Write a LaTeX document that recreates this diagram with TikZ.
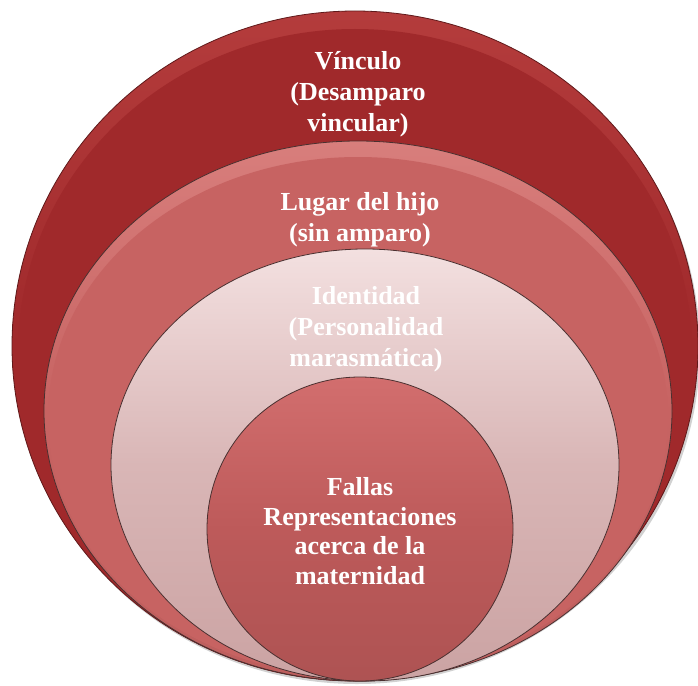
\documentclass[tikz,border=0pt]{standalone}
\usepackage{fontspec}
\setmainfont{Liberation Serif}
\usetikzlibrary{shapes.geometric}
\definecolor{outerc}{HTML}{A0292B}
\definecolor{outerhi}{HTML}{B43C3C}
\definecolor{secondc}{HTML}{C76362}
\definecolor{secondtop}{HTML}{D87E7C}
\definecolor{thirdtop}{HTML}{F3E0E0}
\definecolor{thirdc}{HTML}{D9B6B6}
\definecolor{thirdbot}{HTML}{CBA3A3}
\definecolor{innertop}{HTML}{D26E6E}
\definecolor{innerc}{HTML}{BD5A5A}
\definecolor{edgec}{HTML}{4A3030}
\tikzset{
  ring/.style={draw=edgec, line width=0.8pt},
  shadowring/.style={fill=black, opacity=0.18},
  label/.style={text=white, font=\bfseries\fontsize{26}{31}\selectfont, align=center, inner sep=0pt},
}
\begin{document}
\begin{tikzpicture}[x=1pt,y=-1pt]
\useasboundingbox (0,0) rectangle (698,685);
\fill[white] (0,0) rectangle (698,685);
% outer
\path[shadowring] (357,349) ellipse [x radius=343, y radius=335];
\path[ring, draw=outerc!60!black, top color=outerhi, bottom color=outerc, middle color=outerc] (355,346) ellipse [x radius=343, y radius=335];
\path[fill=outerc] (355,352) ellipse [x radius=337, y radius=323];
% second
\path[ring, top color=secondtop, bottom color=secondc!95!black, middle color=secondc] (358,411) ellipse [x radius=314, y radius=270];
\path[fill=secondc] (358,417) ellipse [x radius=310, y radius=260];
% third
\path[ring, top color=thirdtop, bottom color=thirdbot, middle color=thirdc] (365,465) ellipse [x radius=254, y radius=216];
% inner
\path[ring, top color=innertop, bottom color=innerc!92!black, middle color=innerc] (360,529) ellipse [x radius=153, y radius=152];
% labels
\node[label] (vinculo) at (358,94) {Vínculo\\(Desamparo\\vincular)};
\node[label] (lugar) at (360,220) {Lugar del hijo\\(sin amparo)};
\node[label] (identidad) at (366,329) {Identidad\\(Personalidad\\marasmática)};
\node[label, font=\bfseries\fontsize{26}{29.5}\selectfont] (fallas) at (360,531) {Fallas\\Representaciones\\acerca de la\\maternidad};
\end{tikzpicture}
\end{document}
